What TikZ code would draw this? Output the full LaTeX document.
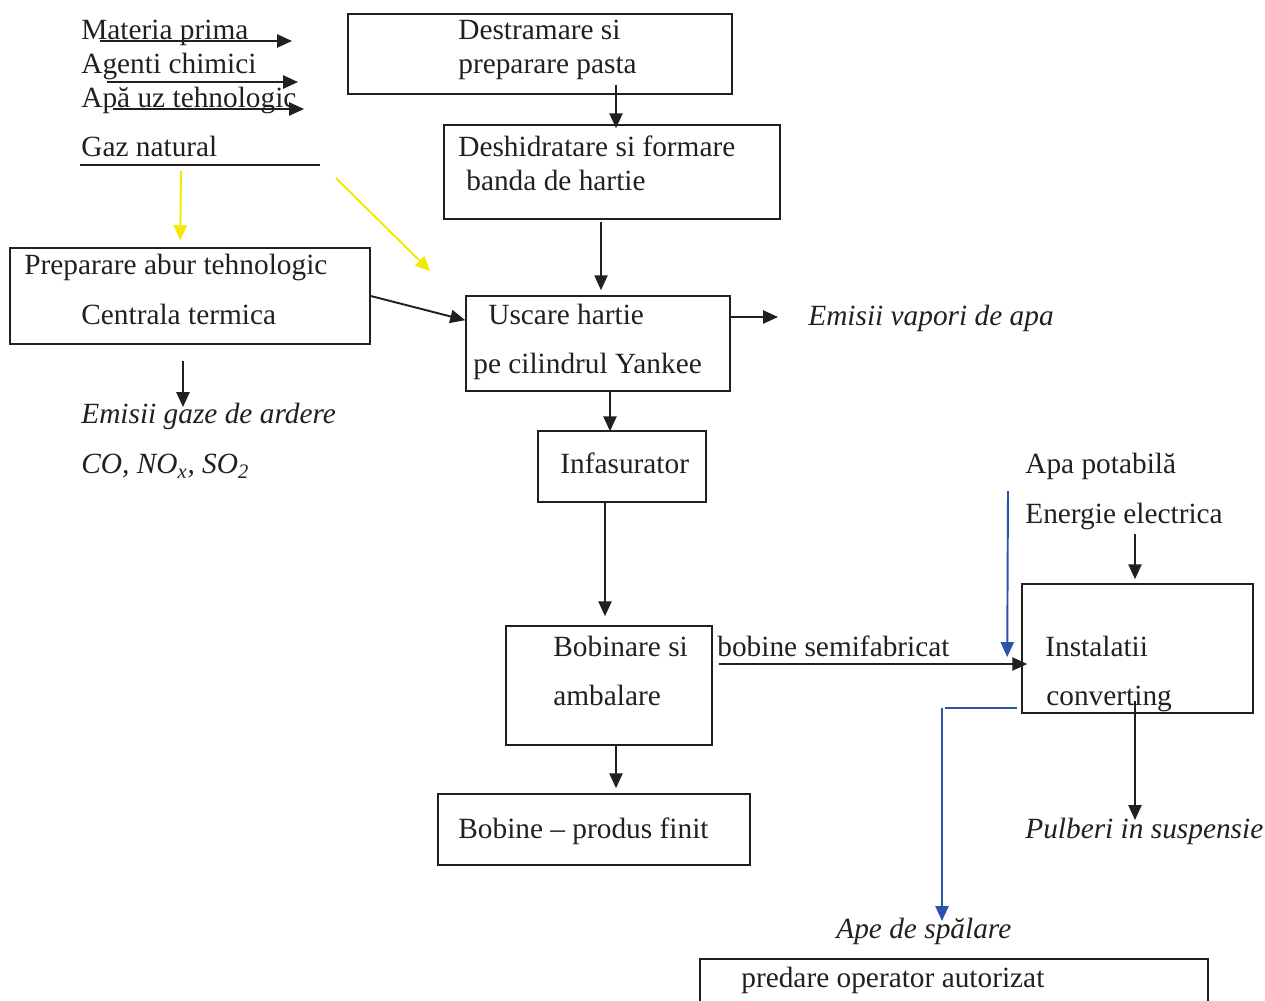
\documentclass[tikz,border=0pt]{standalone}
\usepackage{fontspec}
\setmainfont{Liberation Serif}
\usepackage{tikz}
\usetikzlibrary{positioning,arrows.meta,fit,calc}

\definecolor{ink}{RGB}{35,31,32}
\definecolor{gasyellow}{RGB}{245,232,0}
\definecolor{waterblue}{RGB}{45,82,170}

\tikzset{
  box/.style={draw=ink, line width=0.9pt, inner sep=0pt},
  lbl/.style={anchor=west, inner sep=0pt, text height=11pt, text depth=0pt,
    text=ink, font=\fontsize{16.7}{20}\selectfont},
  emis/.style={lbl, font=\fontsize{16.7}{20}\selectfont\itshape},
  arr/.style={-{Triangle[length=8.5pt,width=7.5pt]}, line width=1.1pt, draw=ink},
  yarr/.style={arr, draw=gasyellow},
  barr/.style={arr, draw=waterblue},
  bline/.style={line width=1.1pt, draw=waterblue}
}

\begin{document}
\begin{tikzpicture}[x=0.02cm, y=-0.02cm]
    \useasboundingbox (0,0) rectangle (1265,1001);

    % boxes
    \node[box, fit={(348,14) (732,94)}] (destr) {};
    \node[box, fit={(444,125) (780,219)}] (desh) {};
    \node[box, fit={(10,248) (370,344)}] (abur) {};
    \node[box, fit={(466,296) (730,391)}] (usc) {};
    \node[box, fit={(538,431) (706,502)}] (inf) {};
    \node[box, fit={(506,626) (712,745)}] (bob) {};
    \node[box, fit={(438,794) (750,865)}] (fin) {};
    \node[box, fit={(1022,584) (1253,713)}] (inst) {};
    \node[box, fit={(700,959) (1208,1040)}] (pred) {};

    % texts in the boxes
    \node[lbl] (destrA) at (458,30) {Destramare si};
    \node[lbl] (destrB) at (458,64) {preparare pasta};
    \node[lbl] (deshA) at (458,147) {Deshidratare si formare};
    \node[lbl] (deshB) at (466,181) {banda de hartie};
    \node[lbl] (aburA) at (24,265) {Preparare abur tehnologic};
    \node[lbl] (aburB) at (81,315) {Centrala termica};
    \node[lbl] (uscA) at (488,315) {Uscare hartie};
    \node[lbl] (uscB) at (473,364) {pe cilindrul Yankee};
    \node[lbl] (infA) at (560,464) {Infasurator};
    \node[lbl] (bobA) at (553,647) {Bobinare si};
    \node[lbl] (bobB) at (553,696) {ambalare};
    \node[lbl] (finA) at (458,829) {Bobine -- produs finit};
    \node[lbl] (instA) at (1045,647) {Instalatii};
    \node[lbl] (instB) at (1046,696) {converting};
    \node[lbl] (predA) at (741,978) {predare operator autorizat};

    % inputs
    \node[lbl] (mat) at (81,30) {Materia prima};
    \node[lbl] (agc) at (81,64) {Agenti chimici};
    \node[lbl] (apa) at (81,98) {Apă uz tehnologic};
    \node[lbl] (gaz) at (81,147) {Gaz natural};
    \node[lbl] (semi) at (717,647) {bobine semifabricat};
    \node[lbl] (apot) at (1025,464) {Apa potabilă};
    \node[lbl] (ene) at (1025,514) {Energie electrica};

    % emissions
    \node[emis] (vap) at (808,316) {Emisii vapori de apa};
    \node[emis] (emi) at (81,414) {Emisii gaze de ardere};
    \node[emis] (emiB) at (81,464) {CO, NO\textsubscript{x}, SO\textsubscript{2}};
    \node[emis] (pul) at (1025,829) {Pulberi in suspensie};
    \node[emis] (ape) at (836,929) {Ape de spălare};

    % raw material arrows
    \draw[arr] ($(mat.west)+(19,11)$) -- ++(192,0);
    \draw[arr] ($(agc.west)+(26,18)$) -- ++(191,0);
    \draw[arr] ($(apa.west)+(32,11)$) -- ++(191,0);
    \draw[line width=1.1pt, draw=ink] ($(gaz.west)+(-1,18)$) -- ++(240,0);

    % natural gas
    \draw[yarr] ($(gaz.west)+(100,24)$) -- ($(abur.north west)+(171,-7)$);
    \draw[yarr] ($(gaz.west)+(255,31)$) -- ($(usc.north west)+(-35,-24)$);

    % main line
    \draw[arr] ($(destr.south)+(76,-10)$) -- ($(desh.north)+(4,4)$);
    \draw[arr] ($(desh.south)+(-11,2)$) -- ($(usc.north)+(3,-5)$);
    \draw[arr] (abur.east) -- ($(usc.north west)+(0,25)$);
    \draw[arr] ($(usc.east)+(0,-26.5)$) -- ($(vap.west)+(-30,1)$);
    \draw[arr] ($(abur.south)+(-7,16)$) -- ($(emi.west)+(102,-7)$);
    \draw[arr] ($(usc.south)+(12,0)$) -- ($(inf.north)+(-12,1)$);
    \draw[arr] ($(inf.south)+(-17,-2)$) -- ($(bob.north)+(-4,-9)$);
    \draw[arr] ($(bob.south)+(7,-2)$) -- ($(fin.north)+(22,-5)$);
    \draw[arr] ($(bob.east)+(6,-21.5)$) -- ($(inst.west)+(6,15.5)$);

    % converting
    \draw[barr] ($(apot.west)+(-17,27)$) -- ($(inst.west)+(-14,8.5)$);
    \draw[arr] ($(ene.west)+(110,20)$) -- ($(inst.north)+(-2.5,-4)$);
    \draw[arr] ($(inst.south)+(-2.5,-13)$) -- ($(pul.west)+(110,-9)$);
    \draw[bline] ($(inst.south west)+(-4,-6)$) -- ++(-72,0);
    \draw[barr] ($(ape.west)+(106,-221)$) -- ($(ape.west)+(106,-8)$);
\end{tikzpicture}
\end{document}
